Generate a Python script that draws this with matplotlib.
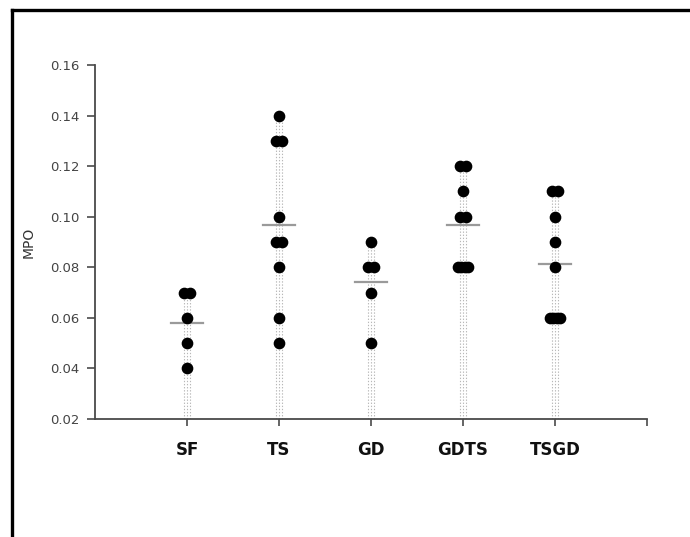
import matplotlib
matplotlib.use("Agg")
import matplotlib.pyplot as plt
from matplotlib.lines import Line2D
import numpy as np
from collections import Counter

groups = ['SF', 'TS', 'GD', 'GDTS', 'TSGD']
sf = [0.07, 0.07, 0.06, 0.05, 0.04]
ts = [0.14, 0.13, 0.13, 0.10, 0.09, 0.09, 0.08, 0.06, 0.05]
gd = [0.09, 0.08, 0.08, 0.07, 0.05]
gdts = [0.12, 0.12, 0.11, 0.10, 0.10, 0.08, 0.08, 0.08, 0.08]
tsgd = [0.11, 0.11, 0.10, 0.09, 0.08, 0.06, 0.06, 0.06, 0.06]
series = [sf, ts, gd, gdts, tsgd]
yticks = [0.02, 0.04, 0.06, 0.08, 0.10, 0.12, 0.14, 0.16]

fig = plt.figure(figsize=(6.9, 5.37), dpi=100)
ax = fig.add_axes([95/690, 1-419/537, (647-95)/690, (419-65)/537])

axis_col = '#4a4a4a'
for i, vals in enumerate(series):
    c = i + 1
    top = max(vals)
    for off in (-0.03, 0.0, 0.03):
        ax.plot([c + off, c + off], [0.02, top], color='#b8b8b8', lw=0.8,
                ls=(0, (1.2, 1.6)), zorder=1)
    m = np.mean(vals)
    ax.plot([c - 0.17, c + 0.17], [m, m], color='#9a9a9a', lw=1.6, zorder=2)
    cnt = Counter(vals)
    xs, ys = [], []
    for v, n in cnt.items():
        spread = min(n - 1, 2) * 0.055
        offs = np.linspace(-spread/2, spread/2, n) if n > 1 else [0.0]
        for o in offs:
            xs.append(c + o)
            ys.append(v)
    ax.plot(xs, ys, 'o', color='black', ms=7.4, mec='black', zorder=3)

ax.set_xlim(0, 6)
ax.set_ylim(0.02, 0.16)
ax.set_yticks(yticks)
ax.set_yticklabels([f'{t:.2f}' for t in yticks], fontsize=9.5, color='#444444',
                   family='DejaVu Sans')
ax.set_xticks([1, 2, 3, 4, 5, 6])
ax.set_xticklabels(groups + [''], fontsize=12, fontweight='bold', color='#111111',
                   family='DejaVu Sans')
ax.tick_params(axis='x', length=5, width=1.2, color=axis_col, pad=11)
ax.tick_params(axis='y', length=6, width=1.2, color=axis_col, pad=5)
for s in ('top', 'right'):
    ax.spines[s].set_visible(False)
for s in ('left', 'bottom'):
    ax.spines[s].set_color(axis_col)
    ax.spines[s].set_linewidth(1.3)
ax.set_ylabel('MPO', fontsize=10, color='#333333')
ax.yaxis.set_label_coords(-0.108, 0.5)

# figure frame (top and left thick border)
fig.add_artist(Line2D([12/690, 1], [1 - 10/537, 1 - 10/537], transform=fig.transFigure,
                      color='black', lw=2.4))
fig.add_artist(Line2D([12/690, 12/690], [0, 1 - 10/537], transform=fig.transFigure,
                      color='black', lw=2.4))

fig.savefig('out.png', dpi=100, facecolor='white')
